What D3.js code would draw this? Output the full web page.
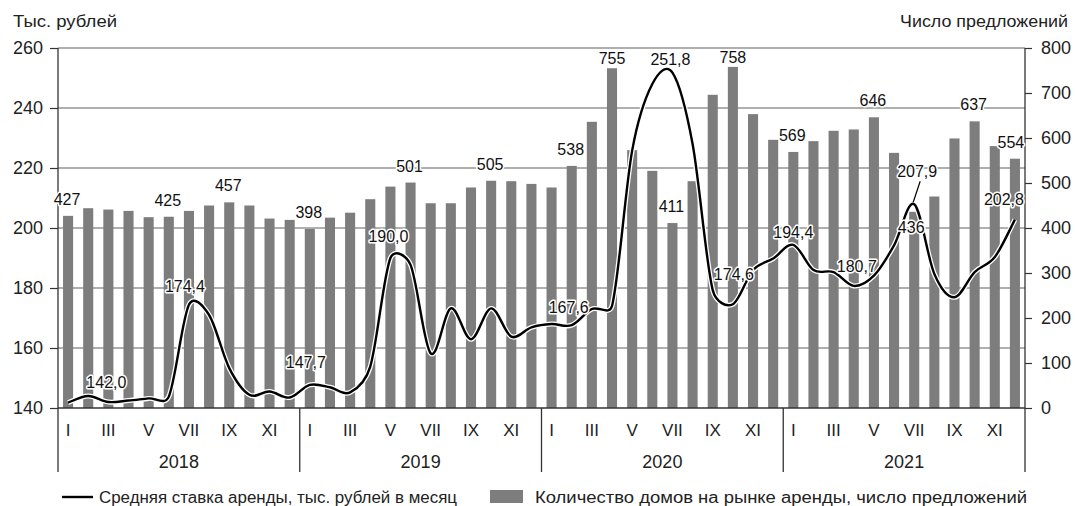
<!DOCTYPE html>
<html><head><meta charset="utf-8">
<script src="https://cdn.jsdelivr.net/npm/d3@7"></script>
<style>
html,body{margin:0;padding:0;background:#fff;}
svg{display:block;font-family:"Liberation Sans",Arial,sans-serif;}
.halo{paint-order:stroke;stroke:#fff;stroke-width:3px;stroke-linejoin:round;}
</style></head>
<body><svg id="c" width="1075" height="506"></svg>
<script>
// ---- data ----
const years = ["2018","2019","2020","2021"];
const monthLabels = ["I","","III","","V","","VII","","IX","","XI",""];
const offers = [
  427,444,441,438,424,425,438,450,457,450,421,418,
  398,423,434,464,492,501,455,455,490,505,504,498,
  490,538,636,755,573,527,411,504,696,758,653,596,
  569,593,616,619,646,567,436,470,599,637,582,554
];
const rent = [
  141.8,144.0,142.0,142.5,143.2,143.8,174.4,171.0,153.3,144.4,145.5,143.5,
  147.7,146.9,145.2,153.8,190.0,187.7,158.2,173.2,162.9,173.2,163.8,166.9,
  168.0,167.6,173.0,174.0,225.8,248.0,251.8,228.0,179.3,174.6,186.0,189.8,
  194.4,186.0,185.3,180.7,184.1,194.2,207.9,184.7,176.9,185.3,190.3,202.8
];
const leftTicks = [140,160,180,200,220,240,260];
const rightTicks = [0,100,200,300,400,500,600,700,800];
const offerLabelIdx = [0,5,8,12,17,21,25,27,30,33,36,40,42,45,47];
const rentLabelIdx = [2,6,12,16,25,30,33,36,39,42,47];
const leftTitle = "Тыс. рублей";
const rightTitle = "Число предложений";
const legendLine = "Средняя ставка аренды, тыс. рублей в месяц";
const legendBar = "Количество домов на рынке аренды, число предложений";

// smoothed curve in the style of spreadsheet "smoothed lines":
// Catmull-Rom Bezier arms (1/6 of neighbour chord), capped at half the segment length
function SmoothCurve(context) { this._context = context; }
SmoothCurve.prototype = {
  areaStart() {}, areaEnd() {},
  lineStart() { this._pts = []; },
  point(px, py) { this._pts.push([+px, +py]); },
  lineEnd() {
    const p = this._pts, c = this._context, n = p.length;
    if (!n) return;
    c.moveTo(p[0][0], p[0][1]);
    const arm = (a, b, seg) => {
      const dx = b[0] - a[0], dy = b[1] - a[1];
      const len = Math.hypot(dx, dy) || 1;
      const want = len / 6, cap = seg / 2;
      const k = (want > cap ? cap / len : 1 / 6);
      return [dx * k, dy * k];
    };
    for (let i = 0; i < n - 1; i++) {
      const P0 = p[i - 1] || p[i], P1 = p[i], P2 = p[i + 1], P3 = p[i + 2] || p[i + 1];
      const seg = Math.hypot(P2[0] - P1[0], P2[1] - P1[1]);
      const a1 = arm(P0, P2, seg), a2 = arm(P1, P3, seg);
      c.bezierCurveTo(P1[0] + a1[0], P1[1] + a1[1], P2[0] - a2[0], P2[1] - a2[1], P2[0], P2[1]);
    }
  }
};
const smoothCurve = ctx => new SmoothCurve(ctx);

// ---- layout ----
const L = 58, R = 1025, T = 48, B = 408;
const svg = d3.select("#c");
const idx = d3.range(offers.length);
const x = d3.scaleBand().domain(idx).range([L, R]).paddingInner(0.5).paddingOuter(0.25);
const cx = i => x(i) + x.bandwidth() / 2;
const step = x.step();
const yL = d3.scaleLinear().domain([140, 260]).range([B, T]);
const yR = d3.scaleLinear().domain([0, 800]).range([B, T]);
const fmt = v => d3.format(".1f")(v).replace(".", ",");

// gridlines
svg.append("g").selectAll("line").data(leftTicks.slice(1)).join("line")
  .attr("x1", L).attr("x2", R).attr("y1", d => yL(d)).attr("y2", d => yL(d))
  .attr("stroke", "#949494").attr("stroke-width", 1.3);

// bars
svg.append("g").selectAll("rect").data(idx).join("rect")
  .attr("x", i => x(i)).attr("width", x.bandwidth())
  .attr("y", i => yR(offers[i])).attr("height", i => B - yR(offers[i]))
  .attr("fill", "#7d7d7d");

// axes
const gl = svg.append("g").attr("transform", `translate(${L},0)`)
  .call(d3.axisLeft(yL).tickValues(leftTicks).tickSize(8).tickPadding(7));
const gr = svg.append("g").attr("transform", `translate(${R},0)`)
  .call(d3.axisRight(yR).tickValues(rightTicks).tickSize(7).tickPadding(9));
[gl, gr].forEach(g => {
  g.select(".domain").remove();
  g.selectAll("line").attr("stroke", "#333").attr("stroke-width", 1.2);
  g.selectAll("text").attr("font-size", 18).attr("fill", "#222")
    .attr("font-family", "Liberation Sans, Arial, sans-serif");
});
// axis lines
svg.append("line").attr("x1", L).attr("x2", R).attr("y1", B).attr("y2", B)
  .attr("stroke", "#333").attr("stroke-width", 1.3);
svg.append("line").attr("x1", L).attr("x2", L).attr("y1", T).attr("y2", B)
  .attr("stroke", "#333").attr("stroke-width", 1.3);
svg.append("line").attr("x1", R).attr("x2", R).attr("y1", T).attr("y2", B)
  .attr("stroke", "#333").attr("stroke-width", 1.3);
// year separators
svg.append("g").selectAll("line").data(d3.range(years.length + 1)).join("line")
  .attr("x1", k => L + k * 12 * step).attr("x2", k => L + k * 12 * step)
  .attr("y1", B).attr("y2", 472).attr("stroke", "#333").attr("stroke-width", 1.3);

// month labels
svg.append("g").selectAll("text").data(idx.filter(i => monthLabels[i % 12] !== "")).join("text")
  .attr("x", i => cx(i)).attr("y", 430).attr("dy", "0.35em")
  .attr("text-anchor", "middle").attr("font-size", 17).attr("fill", "#222")
  .text(i => monthLabels[i % 12]);
// year labels
svg.append("g").selectAll("text").data(years).join("text")
  .attr("x", (d, k) => L + (k + 0.5) * 12 * step).attr("y", 462).attr("dy", "0.35em")
  .attr("text-anchor", "middle").attr("font-size", 18).attr("fill", "#222")
  .text(d => d);

// line
const line = d3.line().x(i => cx(i)).y(i => yL(rent[i])).curve(smoothCurve);
svg.append("path").attr("d", line(idx)).attr("fill", "none")
  .attr("stroke", "#fff").attr("stroke-width", 5).attr("stroke-linejoin", "round");
svg.append("path").attr("d", line(idx)).attr("fill", "none")
  .attr("stroke", "#000").attr("stroke-width", 2.4).attr("stroke-linejoin", "round");

// bar value labels
const barLabelPos = {27: [0, -4], 33: [0, -4], 42: [-3, 21], 47: [-4, -11]};
svg.append("g").selectAll("text").data(offerLabelIdx).join("text")
  .attr("class", "halo")
  .attr("x", i => cx(i) + (barLabelPos[i] ? barLabelPos[i][0] : -1))
  .attr("y", i => yR(offers[i]) + (barLabelPos[i] ? barLabelPos[i][1] : -11))
  .attr("text-anchor", "middle").attr("font-size", 16).attr("fill", "#111")
  .text(i => offers[i]);

// rent value labels
const rentLabelPos = {2: [-2, -14], 6: [-4, -13], 12: [-4, -17], 16: [-2, -16], 25: [-3, -12],
  30: [-2, -8], 33: [1, -24], 36: [0, -7], 39: [3, -14], 42: [3, -27], 47: [-11, -15]};
// leader for 207,9
svg.append("line").attr("x1", cx(42) + 6).attr("y1", yL(rent[42]) - 23)
  .attr("x2", cx(42) - 1).attr("y2", yL(rent[42]) - 2).attr("stroke", "#000").attr("stroke-width", 1.2);
svg.append("g").selectAll("text").data(rentLabelIdx).join("text")
  .attr("class", "halo")
  .attr("x", i => cx(i) + rentLabelPos[i][0])
  .attr("y", i => yL(rent[i]) + rentLabelPos[i][1])
  .attr("text-anchor", "middle").attr("font-size", 16).attr("fill", "#111")
  .text(i => fmt(rent[i]));

// titles
svg.append("text").attr("x", 13).attr("y", 27).attr("font-size", 16).attr("fill", "#222")
  .attr("textLength", 104).attr("lengthAdjust", "spacingAndGlyphs").text(leftTitle);
svg.append("text").attr("x", 900).attr("y", 27).attr("font-size", 16).attr("fill", "#222")
  .attr("textLength", 168).attr("lengthAdjust", "spacingAndGlyphs").text(rightTitle);

// legend
const lg = svg.append("g");
lg.append("line").attr("x1", 62).attr("x2", 93).attr("y1", 497).attr("y2", 497).attr("stroke", "#000").attr("stroke-width", 2.4);
lg.append("text").attr("x", 99).attr("y", 503).attr("font-size", 16).attr("fill", "#222")
  .attr("textLength", 358).attr("lengthAdjust", "spacingAndGlyphs").text(legendLine);
lg.append("rect").attr("x", 490).attr("y", 490).attr("width", 33).attr("height", 13).attr("fill", "#7d7d7d");
lg.append("text").attr("x", 535).attr("y", 503).attr("font-size", 16).attr("fill", "#222")
  .attr("textLength", 492).attr("lengthAdjust", "spacingAndGlyphs").text(legendBar);
</script></body></html>
